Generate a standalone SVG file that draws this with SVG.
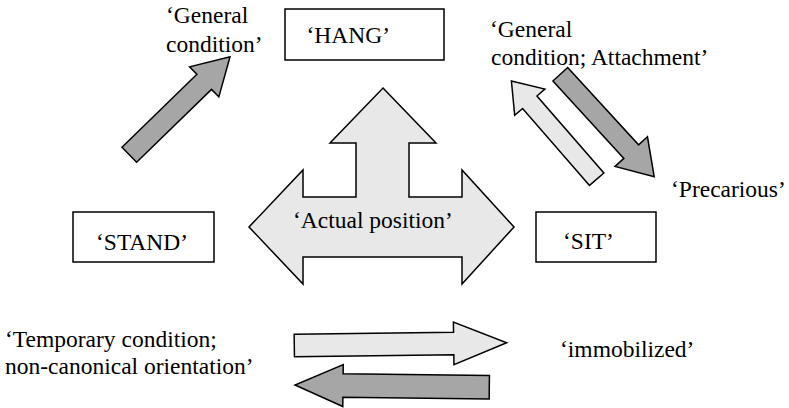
<svg xmlns="http://www.w3.org/2000/svg" width="789" height="408" viewBox="0 0 789 408">
<style>
text{font-family:'Liberation Serif','DejaVu Serif',serif;font-size:23.5px;fill:#000}
.box{fill:#fff;stroke:#000;stroke-width:1.5}
.dark{fill:#a6a6a6;stroke:#000;stroke-width:1.5;stroke-linejoin:miter}
.light{fill:#e8e8e8;stroke:#000;stroke-width:1.5;stroke-linejoin:miter}
</style>
<rect width="789" height="408" fill="#fff"/>
<g id="connectors">
<polygon id="central" class="light" points="383,88 436,143 409,143 409,197 462,197 462,170 514,227 462,284 462,257 303,257 303,284 249,227 303,170 303,197 356,197 356,143 330,143"/>
<polygon id="arrow-stand-hang" class="dark" points="0,-10.5 104.5,-10.5 104.5,-21 140.5,0 104.5,21 104.5,10.5 0,10.5" transform="translate(129.3,154.7) rotate(-44.2)"/>
<polygon id="arrow-sit-hang" class="light" points="0,-9.5 102,-9.5 102,-20 130,0 102,20 102,9.5 0,9.5" transform="translate(596.7,179.2) rotate(229)"/>
<polygon id="arrow-hang-sit" class="dark" points="0,-10 105,-10 105,-22 139,0 105,22 105,10 0,10" transform="translate(560.3,74.2) rotate(47.5)"/>
<polygon id="arrow-bottom-right" class="light" points="0,-11.25 159.4,-11.25 159.4,-21.3 212.4,0 159.4,21.3 159.4,11.25 0,11.25" transform="translate(294.3,345.5) rotate(-0.75)"/>
<polygon id="arrow-bottom-left" class="dark" points="0,-11.75 146.3,-11.75 146.3,-21 194.3,0 146.3,21 146.3,11.75 0,11.75" transform="translate(489.3,387.2) rotate(180.65)"/>
</g>
<g id="hang"><rect class="box" x="285" y="9" width="159" height="51"/><text font-family="Liberation Serif, serif" x="306.5" y="43">‘HANG’</text></g>
<g id="stand"><rect class="box" x="73" y="212" width="141" height="50"/><text font-family="Liberation Serif, serif" x="96" y="250">‘STAND’</text></g>
<g id="sit"><rect class="box" x="536" y="212" width="120" height="50"/><text font-family="Liberation Serif, serif" x="563" y="249">‘SIT’</text></g>
<g id="labels" font-family="Liberation Serif, serif">
<text x="293" y="227.5">‘Actual position’</text>
<text x="166" y="23">‘General</text>
<text x="166" y="52">condition’</text>
<text x="490" y="37">‘General</text>
<text x="491" y="65">condition; Attachment’</text>
<text x="671" y="196.7">‘Precarious’</text>
<text x="5" y="346.7">‘Temporary condition;</text>
<text x="5" y="374">non-canonical orientation’</text>
<text x="560" y="356.7">‘immobilized’</text>
</g>
</svg>
